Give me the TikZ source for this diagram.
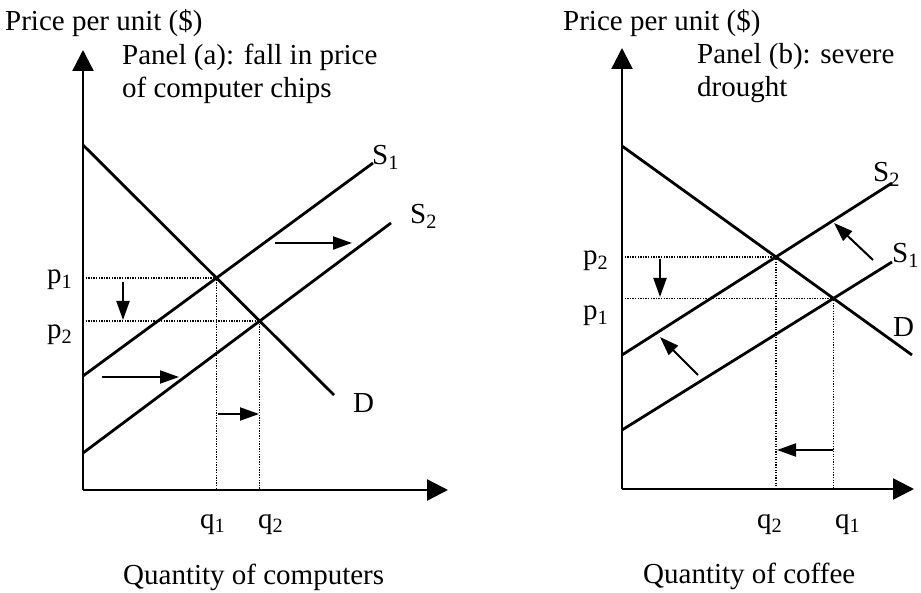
\documentclass[tikz,border=0pt]{standalone}
\usepackage{fontspec}
\setmainfont{Liberation Serif}
\usepackage{tikz}
\usetikzlibrary{arrows.meta}

\begin{document}
\begin{tikzpicture}[
  x=1pt, y=-1pt,
  lbl/.style={font=\fontsize{29}{33}\selectfont, inner sep=0pt, anchor=base west},
  axisline/.style={line width=2.4pt, -{Triangle[length=21pt,width=21pt]}},
  curve/.style={line width=2.8pt},
  guide/.style={line width=1.3pt, dash pattern=on 1.3pt off 1.3pt},
  move/.style={line width=2pt, -{Triangle[length=19pt,width=13pt]}}
]
\useasboundingbox (0,0) rectangle (921,593);

% Panel (a): computers
\coordinate (oa) at (83,490);
\coordinate (ya) at (83,50);
\coordinate (xa) at (448,490);
\coordinate (da1) at (83,145);  \coordinate (da2) at (334,395);
\coordinate (s1a1) at (83,376); \coordinate (s1a2) at (373,163);
\coordinate (s2a1) at (83,453); \coordinate (s2a2) at (391,223);
\coordinate (e1a) at (intersection of da1--da2 and s1a1--s1a2);
\coordinate (e2a) at (intersection of da1--da2 and s2a1--s2a2);

\draw[guide] (oa |- e1a) -- (e1a) -- (e1a |- oa);
\draw[guide] (oa |- e2a) -- (e2a) -- (e2a |- oa);
\draw[axisline] (oa) -- (ya);
\draw[axisline] (oa) -- (xa);
\draw[curve] (da1) -- (da2);
\draw[curve] (s1a1) -- (s1a2);
\draw[curve] (s2a1) -- (s2a2);

% Shift arrows (a)
\coordinate (pa1) at (123,282); \coordinate (pa2) at (123,320);
\coordinate (ta1) at (275,243); \coordinate (ta2) at (352,243);
\coordinate (ba1) at (102,377); \coordinate (ba2) at (179,377);
\coordinate (qa1) at (218,414); \coordinate (qa2) at (259,414);
\draw[move] (pa1) -- (pa2);
\draw[move] (ta1) -- (ta2);
\draw[move] (ba1) -- (ba2);
\draw[move] (qa1) -- (qa2);

% Labels (a)
\node[lbl] (ytitlea) at (5,31) {Price per unit (\$)};
\node[lbl] (panela1) at (122,65) {Panel (a): fall in price};
\node[lbl] (panela2) at (122,98) {of computer chips};
\node[lbl] (p1a) at (47,284) {p\textsubscript{1}};
\node[lbl] (p2a) at (47,339) {p\textsubscript{2}};
\node[lbl] (q1a) at (200,528) {q\textsubscript{1}};
\node[lbl] (q2a) at (258,528) {q\textsubscript{2}};
\node[lbl] (xtitlea) at (123,584) {Quantity of computers};
\node[lbl] (S1a) at (372,165) {S\textsubscript{1}};
\node[lbl] (S2a) at (410,224) {S\textsubscript{2}};
\node[lbl] (Da) at (353,413) {D};

% Panel (b): coffee
\coordinate (ob) at (622,489);
\coordinate (yb) at (622,48);
\coordinate (xb) at (914,489);
\coordinate (db1) at (622,146);  \coordinate (db2) at (912,355);
\coordinate (s2b1) at (622,355); \coordinate (s2b2) at (892,183);
\coordinate (s1b1) at (622,430); \coordinate (s1b2) at (892,262);
\coordinate (e2b) at (intersection of db1--db2 and s2b1--s2b2);
\coordinate (e1b) at (intersection of db1--db2 and s1b1--s1b2);

\draw[guide] (ob |- e2b) -- (e2b) -- (e2b |- ob);
\draw[guide] (ob |- e1b) -- (e1b) -- (e1b |- ob);
\draw[axisline] (ob) -- (yb);
\draw[axisline] (ob) -- (xb);
\draw[curve] (db1) -- (db2);
\draw[curve] (s2b1) -- (s2b2);
\draw[curve] (s1b1) -- (s1b2);

% Shift arrows (b)
\coordinate (pb1) at (660,259); \coordinate (pb2) at (660,297);
\coordinate (ub1) at (873,260); \coordinate (ub2) at (834,223);
\coordinate (lb1) at (698,375); \coordinate (lb2) at (660,337);
\coordinate (qb1) at (833,450); \coordinate (qb2) at (777,450);
\draw[move] (pb1) -- (pb2);
\draw[move] (ub1) -- (ub2);
\draw[move] (lb1) -- (lb2);
\draw[move] (qb1) -- (qb2);

% Labels (b)
\node[lbl] (ytitleb) at (563,31) {Price per unit (\$)};
\node[lbl] (panelb1) at (697,64) {Panel (b): severe};
\node[lbl] (panelb2) at (697,97) {drought};
\node[lbl] (p2b) at (583,265) {p\textsubscript{2}};
\node[lbl] (p1b) at (583,320) {p\textsubscript{1}};
\node[lbl] (q2b) at (757,528) {q\textsubscript{2}};
\node[lbl] (q1b) at (835,528) {q\textsubscript{1}};
\node[lbl] (xtitleb) at (643,583) {Quantity of coffee};
\node[lbl] (S2b) at (873,182) {S\textsubscript{2}};
\node[lbl] (S1b) at (892,263) {S\textsubscript{1}};
\node[lbl] (Db) at (893,337) {D};
\end{tikzpicture}
\end{document}
